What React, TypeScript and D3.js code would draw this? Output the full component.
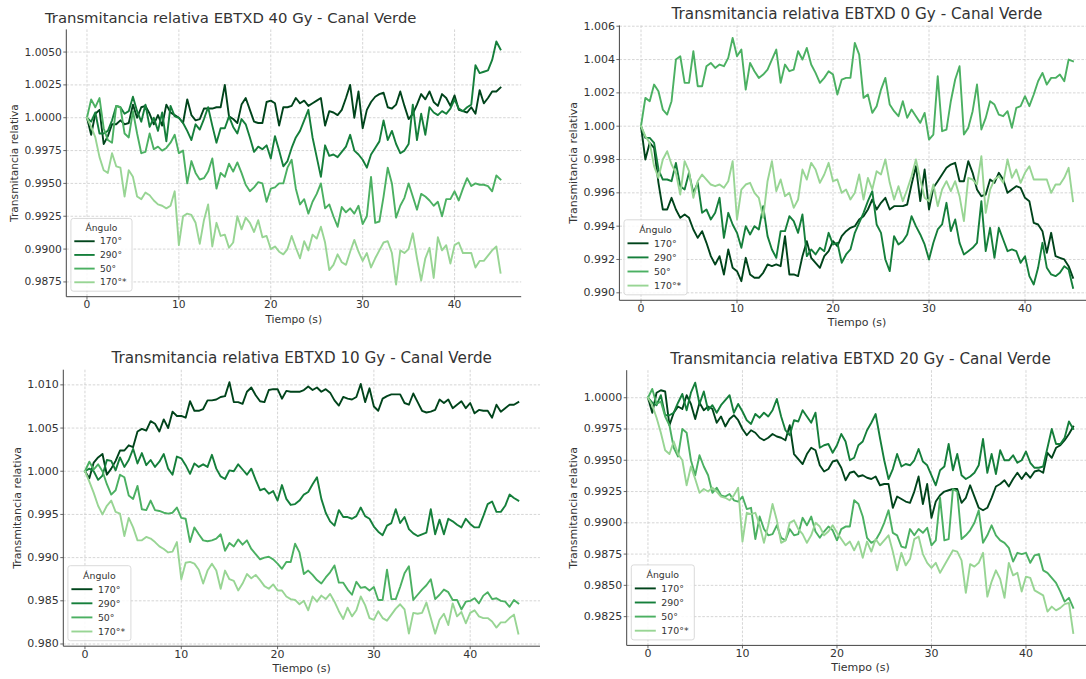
import React from "react";
import * as d3 from "d3";

const ANGLE_LABELS = ["170°", "290°", "50°", "170°*"];
const LINE_COLORS = ["#00441b", "#157f3b", "#4bb062", "#98d594"];
const X_TICKS = [0, 10, 20, 30, 40];
const DURATION = 45;

const TITLES = [
  "Transmitancia relativa EBTXD 40 Gy - Canal Verde",
  "Transmitancia relativa EBTXD 0 Gy - Canal Verde",
  "Transmitancia relativa EBTXD 10 Gy - Canal Verde",
  "Transmitancia relativa EBTXD 20 Gy - Canal Verde",
];

const Y_TICKS_40 = [0.9875, 0.99, 0.9925, 0.995, 0.9975, 1.0, 1.0025, 1.005];
const Y_TICKS_0 = [0.99, 0.992, 0.994, 0.996, 0.998, 1.0, 1.002, 1.004, 1.006];
const Y_TICKS_10 = [0.98, 0.985, 0.99, 0.995, 1.0, 1.005, 1.01];
const Y_TICKS_20 = [0.9825, 0.985, 0.9875, 0.99, 0.9925, 0.995, 0.9975, 1.0];

// ---- 40 Gy ----
const gy40_a170 = [
  1.0000,0.9987,1.0003,1.0006,0.9980,0.9986,0.9995,0.9995,0.9998,0.9995,
  0.9996,1.0010,1.0000,1.0008,1.0009,1.0003,0.9995,1.0002,0.9994,1.0010,
  1.0004,1.0002,1.0000,0.9996,1.0014,1.0002,0.9998,0.9999,1.0007,1.0007,
  1.0007,1.0008,1.0008,1.0025,1.0001,0.9999,0.9996,1.0010,1.0015,1.0006,
  0.9997,0.9996,0.9996,1.0012,1.0013,1.0011,0.9994,1.0008,1.0008,1.0009,
  1.0015,1.0011,1.0013,1.0009,1.0011,1.0013,1.0015,0.9994,1.0005,1.0004,
  1.0002,1.0006,1.0015,1.0025,1.0000,1.0020,0.9992,1.0006,1.0012,1.0016,
  1.0018,1.0019,1.0008,1.0007,1.0010,1.0020,1.0009,0.9999,1.0003,1.0010,
  1.0018,1.0014,1.0020,1.0012,1.0009,1.0018,1.0015,1.0009,1.0017,1.0006,
  1.0005,1.0004,1.0008,1.0003,1.0021,1.0011,1.0015,1.0020,1.0020,1.0023,
];
const gy40_a290 = [
  1.0000,0.9997,1.0004,0.9988,0.9988,0.9990,0.9998,1.0009,1.0008,1.0003,
  1.0005,1.0016,1.0005,0.9997,1.0010,0.9993,1.0000,0.9990,1.0004,0.9982,
  1.0009,1.0001,1.0000,0.9996,0.9990,0.9983,0.9995,0.9991,0.9999,1.0008,
  0.9994,0.9981,0.9992,0.9992,1.0001,0.9993,0.9988,0.9999,0.9995,0.9985,
  0.9974,0.9978,0.9976,0.9979,0.9969,0.9986,0.9975,0.9963,0.9967,0.9977,
  0.9985,0.9990,0.9998,1.0006,0.9985,0.9970,0.9955,0.9979,0.9971,0.9972,
  0.9970,0.9974,0.9978,0.9987,0.9975,0.9972,0.9968,0.9962,0.9972,0.9977,
  0.9982,0.9998,0.9983,0.9990,0.9980,0.9973,0.9975,0.9980,1.0010,0.9983,
  1.0003,0.9987,1.0008,1.0004,1.0002,1.0005,1.0003,1.0007,1.0014,1.0007,
  1.0005,1.0008,1.0010,1.0040,1.0034,1.0035,1.0036,1.0044,1.0058,1.0052,
];
const gy40_a50 = [
  1.0000,1.0014,1.0008,1.0015,0.9992,0.9983,0.9981,1.0009,1.0008,0.9988,
  0.9985,1.0005,0.9988,0.9973,0.9974,0.9988,0.9976,0.9978,0.9975,0.9977,
  0.9981,0.9987,0.9973,0.9975,0.9950,0.9967,0.9958,0.9953,0.9954,0.9959,
  0.9969,0.9946,0.9958,0.9955,0.9965,0.9959,0.9966,0.9958,0.9949,0.9944,
  0.9947,0.9951,0.9950,0.9936,0.9946,0.9947,0.9950,0.9950,0.9962,0.9968,
  0.9946,0.9934,0.9938,0.9927,0.9936,0.9942,0.9950,0.9931,0.9934,0.9925,
  0.9917,0.9932,0.9928,0.9931,0.9927,0.9933,0.9919,0.9925,0.9955,0.9920,
  0.9921,0.9940,0.9962,0.9950,0.9924,0.9933,0.9939,0.9950,0.9940,0.9930,
  0.9942,0.9940,0.9937,0.9933,0.9936,0.9925,0.9938,0.9938,0.9944,0.9937,
  0.9946,0.9954,0.9948,0.9950,0.9949,0.9949,0.9948,0.9944,0.9956,0.9953,
];
const gy40_a170s = [
  1.0000,0.9993,0.9985,0.9970,0.9960,0.9958,0.9973,0.9963,0.9962,0.9940,
  0.9960,0.9955,0.9940,0.9938,0.9943,0.9941,0.9937,0.9934,0.9933,0.9931,
  0.9933,0.9944,0.9903,0.9925,0.9927,0.9926,0.9920,0.9904,0.9922,0.9934,
  0.9902,0.9920,0.9910,0.9911,0.9901,0.9905,0.9925,0.9915,0.9924,0.9920,
  0.9913,0.9922,0.9909,0.9910,0.9900,0.9902,0.9898,0.9896,0.9900,0.9910,
  0.9901,0.9893,0.9906,0.9899,0.9911,0.9908,0.9917,0.9905,0.9884,0.9888,
  0.9896,0.9890,0.9888,0.9898,0.9907,0.9898,0.9891,0.9897,0.9886,0.9893,
  0.9899,0.9905,0.9906,0.9897,0.9873,0.9899,0.9897,0.9900,0.9912,0.9893,
  0.9876,0.9893,0.9901,0.9878,0.9909,0.9899,0.9903,0.9889,0.9903,0.9905,
  0.9897,0.9897,0.9897,0.9886,0.9891,0.9891,0.9895,0.9899,0.9902,0.9882,
];

// ---- 0 Gy ----
const gy0_a170 = [
  1.0000,0.9980,0.9990,0.9987,0.9966,0.9950,0.9950,0.9957,0.9950,0.9945,
  0.9947,0.9945,0.9938,0.9933,0.9937,0.9930,0.9922,0.9917,0.9922,0.9911,
  0.9926,0.9915,0.9913,0.9907,0.9921,0.9911,0.9909,0.9909,0.9912,0.9917,
  0.9916,0.9917,0.9916,0.9934,0.9911,0.9911,0.9910,0.9922,0.9931,0.9921,
  0.9918,0.9915,0.9922,0.9925,0.9931,0.9928,0.9934,0.9937,0.9939,0.9940,
  0.9944,0.9946,0.9950,0.9956,0.9950,0.9954,0.9957,0.9950,0.9952,0.9952,
  0.9952,0.9953,0.9965,0.9976,0.9955,0.9974,0.9950,0.9963,0.9967,0.9971,
  0.9975,0.9977,0.9978,0.9967,0.9967,0.9979,0.9972,0.9962,0.9958,0.9959,
  0.9968,0.9966,0.9972,0.9968,0.9960,0.9962,0.9964,0.9963,0.9957,0.9955,
  0.9942,0.9941,0.9937,0.9924,0.9936,0.9922,0.9921,0.9920,0.9916,0.9909,
];
const gy0_a290 = [
  1.0000,0.9993,0.9993,0.9990,0.9974,0.9968,0.9968,0.9967,0.9978,0.9964,
  0.9962,0.9972,0.9960,0.9966,0.9948,0.9950,0.9944,0.9948,0.9957,0.9933,
  0.9948,0.9941,0.9936,0.9927,0.9940,0.9935,0.9940,0.9938,0.9952,0.9934,
  0.9926,0.9921,0.9937,0.9937,0.9946,0.9943,0.9936,0.9947,0.9922,0.9926,
  0.9923,0.9927,0.9925,0.9936,0.9929,0.9930,0.9918,0.9923,0.9926,0.9936,
  0.9942,0.9948,0.9955,0.9961,0.9941,0.9936,0.9920,0.9913,0.9934,0.9929,
  0.9931,0.9935,0.9946,0.9940,0.9935,0.9929,0.9920,0.9930,0.9938,0.9941,
  0.9954,0.9937,0.9944,0.9930,0.9923,0.9925,0.9927,0.9930,0.9955,0.9925,
  0.9939,0.9921,0.9939,0.9932,0.9925,0.9926,0.9925,0.9918,0.9922,0.9910,
  0.9905,0.9915,0.9930,0.9915,0.9911,0.9910,0.9912,0.9916,0.9914,0.9903,
];
const gy0_a50 = [
  1.0000,1.0017,1.0015,1.0025,1.0021,1.0010,1.0007,1.0015,1.0040,1.0042,
  1.0026,1.0026,1.0045,1.0024,1.0024,1.0036,1.0038,1.0035,1.0037,1.0036,
  1.0041,1.0053,1.0042,1.0046,1.0022,1.0038,1.0033,1.0029,1.0031,1.0034,
  1.0040,1.0046,1.0026,1.0037,1.0033,1.0034,1.0045,1.0040,1.0047,1.0037,
  1.0032,1.0026,1.0029,1.0033,1.0031,1.0019,1.0028,1.0029,1.0029,1.0050,
  1.0043,1.0017,1.0019,1.0008,1.0012,1.0022,1.0029,1.0013,1.0009,1.0006,
  1.0015,1.0005,1.0010,1.0006,1.0002,1.0008,0.9992,0.9995,1.0030,0.9997,
  0.9998,1.0015,1.0028,1.0036,0.9995,0.9999,1.0009,1.0025,0.9998,1.0005,
  1.0015,1.0013,1.0007,1.0006,1.0009,0.9999,1.0011,1.0012,1.0018,1.0012,
  1.0019,1.0027,1.0032,1.0025,1.0029,1.0029,1.0031,1.0027,1.0040,1.0039,
];
const gy0_a170s = [
  1.0000,0.9994,0.9990,0.9976,0.9969,0.9980,0.9985,0.9977,0.9972,0.9959,
  0.9979,0.9973,0.9957,0.9967,0.9971,0.9968,0.9965,0.9964,0.9965,0.9963,
  0.9967,0.9979,0.9944,0.9962,0.9965,0.9966,0.9960,0.9957,0.9945,0.9967,
  0.9979,0.9961,0.9968,0.9958,0.9960,0.9951,0.9956,0.9974,0.9968,0.9978,
  0.9974,0.9966,0.9971,0.9978,0.9967,0.9968,0.9960,0.9962,0.9956,0.9960,
  0.9971,0.9956,0.9969,0.9962,0.9973,0.9971,0.9980,0.9966,0.9956,0.9964,
  0.9955,0.9962,0.9970,0.9980,0.9968,0.9957,0.9955,0.9965,0.9952,0.9962,
  0.9967,0.9961,0.9967,0.9958,0.9943,0.9969,0.9968,0.9965,0.9982,0.9948,
  0.9962,0.9968,0.9970,0.9966,0.9980,0.9969,0.9974,0.9966,0.9972,0.9976,
  0.9968,0.9968,0.9968,0.9968,0.9960,0.9965,0.9965,0.9969,0.9975,0.9955,
];

// ---- 10 Gy ----
const gy10_a170 = [
  1.0000,0.9992,1.0010,1.0016,1.0020,0.9996,1.0003,1.0012,1.0024,1.0024,
  1.0030,1.0028,1.0046,1.0049,1.0047,1.0058,1.0055,1.0046,1.0060,1.0050,
  1.0069,1.0064,1.0064,1.0062,1.0081,1.0070,1.0070,1.0072,1.0082,1.0082,
  1.0083,1.0086,1.0087,1.0103,1.0080,1.0080,1.0078,1.0092,1.0097,1.0088,
  1.0081,1.0080,1.0094,1.0095,1.0095,1.0084,1.0093,1.0092,1.0092,1.0092,
  1.0094,1.0098,1.0094,1.0097,1.0092,1.0095,1.0091,1.0082,1.0076,1.0086,
  1.0084,1.0083,1.0086,1.0101,1.0080,1.0096,1.0075,1.0070,1.0084,1.0087,
  1.0089,1.0089,1.0089,1.0079,1.0077,1.0090,1.0080,1.0070,1.0068,1.0069,
  1.0071,1.0083,1.0079,1.0083,1.0073,1.0077,1.0081,1.0073,1.0079,1.0067,
  1.0071,1.0070,1.0070,1.0062,1.0077,1.0069,1.0073,1.0077,1.0077,1.0080,
];
const gy10_a290 = [
  1.0000,1.0003,1.0000,0.9990,0.9995,1.0013,1.0012,1.0001,1.0016,1.0005,
  1.0013,1.0026,1.0009,1.0021,1.0007,1.0013,1.0005,1.0011,1.0020,1.0003,
  0.9996,1.0017,1.0015,1.0007,0.9997,1.0009,1.0005,1.0008,1.0005,1.0019,
  1.0003,0.9994,0.9991,1.0001,1.0000,1.0008,1.0002,0.9996,1.0003,0.9990,
  0.9978,0.9980,0.9974,0.9977,0.9966,0.9984,0.9968,0.9961,0.9962,0.9966,
  0.9973,0.9976,0.9985,0.9993,0.9968,0.9952,0.9942,0.9937,0.9955,0.9947,
  0.9947,0.9945,0.9948,0.9958,0.9948,0.9945,0.9936,0.9930,0.9926,0.9937,
  0.9940,0.9956,0.9940,0.9947,0.9933,0.9928,0.9925,0.9927,0.9929,0.9956,
  0.9927,0.9944,0.9927,0.9945,0.9942,0.9938,0.9935,0.9945,0.9939,0.9935,
  0.9935,0.9948,0.9962,0.9965,0.9953,0.9953,0.9960,0.9973,0.9969,0.9966,
];
const gy10_a50 = [
  1.0000,1.0011,1.0002,1.0008,1.0000,0.9985,0.9973,0.9978,0.9996,0.9993,
  0.9972,0.9968,0.9983,0.9956,0.9955,0.9966,0.9955,0.9954,0.9952,0.9951,
  0.9952,0.9958,0.9946,0.9945,0.9918,0.9935,0.9927,0.9920,0.9919,0.9920,
  0.9922,0.9927,0.9908,0.9917,0.9913,0.9921,0.9915,0.9920,0.9910,0.9904,
  0.9898,0.9900,0.9901,0.9898,0.9893,0.9887,0.9895,0.9895,0.9916,0.9906,
  0.9881,0.9885,0.9880,0.9874,0.9870,0.9877,0.9883,0.9891,0.9871,0.9871,
  0.9863,0.9857,0.9872,0.9865,0.9866,0.9862,0.9866,0.9851,0.9851,0.9886,
  0.9852,0.9852,0.9866,0.9882,0.9890,0.9851,0.9857,0.9863,0.9868,0.9875,
  0.9852,0.9857,0.9863,0.9860,0.9851,0.9851,0.9840,0.9849,0.9850,0.9853,
  0.9847,0.9856,0.9860,0.9852,0.9853,0.9850,0.9849,0.9843,0.9851,0.9847,
];
const gy10_a170s = [
  1.0000,0.9988,0.9975,0.9960,0.9950,0.9960,0.9966,0.9953,0.9951,0.9925,
  0.9946,0.9935,0.9920,0.9920,0.9924,0.9922,0.9918,0.9913,0.9910,0.9906,
  0.9907,0.9918,0.9875,0.9894,0.9895,0.9893,0.9886,0.9870,0.9885,0.9893,
  0.9885,0.9864,0.9885,0.9875,0.9873,0.9862,0.9870,0.9881,0.9876,0.9880,
  0.9874,0.9867,0.9864,0.9869,0.9862,0.9862,0.9855,0.9852,0.9851,0.9846,
  0.9850,0.9839,0.9855,0.9849,0.9856,0.9852,0.9858,0.9849,0.9838,0.9829,
  0.9842,0.9832,0.9839,0.9855,0.9845,0.9830,0.9828,0.9838,0.9830,0.9827,
  0.9834,0.9841,0.9846,0.9840,0.9812,0.9836,0.9835,0.9836,0.9848,0.9830,
  0.9812,0.9828,0.9835,0.9822,0.9847,0.9832,0.9837,0.9824,0.9836,0.9839,
  0.9832,0.9830,0.9830,0.9826,0.9819,0.9825,0.9825,0.9830,0.9834,0.9812,
];

// ---- 20 Gy ----
const gy20_a170 = [
  1.0000,0.9988,1.0004,1.0006,1.0005,0.9978,0.9988,0.9993,0.9991,1.0002,
  0.9995,0.9983,0.9996,0.9990,0.9993,0.9991,0.9980,0.9985,0.9977,0.9983,
  0.9986,0.9982,0.9975,0.9970,0.9974,0.9972,0.9968,0.9966,0.9968,0.9971,
  0.9969,0.9968,0.9966,0.9978,0.9955,0.9951,0.9947,0.9955,0.9960,0.9958,
  0.9946,0.9941,0.9943,0.9949,0.9950,0.9944,0.9934,0.9940,0.9941,0.9937,
  0.9938,0.9936,0.9935,0.9937,0.9930,0.9931,0.9931,0.9912,0.9921,0.9919,
  0.9917,0.9916,0.9925,0.9937,0.9915,0.9931,0.9904,0.9917,0.9922,0.9925,
  0.9926,0.9927,0.9927,0.9916,0.9920,0.9930,0.9921,0.9912,0.9910,0.9912,
  0.9920,0.9929,0.9931,0.9934,0.9929,0.9935,0.9940,0.9935,0.9940,0.9936,
  0.9941,0.9942,0.9940,0.9956,0.9952,0.9960,0.9962,0.9966,0.9971,0.9977,
];
const gy20_a290 = [
  1.0000,0.9996,0.9994,1.0002,0.9986,0.9986,0.9988,0.9996,1.0003,0.9990,
  1.0004,1.0012,0.9995,1.0005,0.9990,0.9994,0.9988,0.9994,0.9998,1.0002,
  0.9988,0.9995,0.9989,0.9982,0.9979,0.9987,0.9984,0.9988,0.9985,0.9990,
  0.9999,0.9985,0.9974,0.9970,0.9982,0.9981,0.9990,0.9985,0.9980,0.9988,
  0.9960,0.9962,0.9963,0.9956,0.9962,0.9971,0.9965,0.9950,0.9952,0.9962,
  0.9965,0.9974,0.9980,0.9987,0.9968,0.9950,0.9935,0.9943,0.9955,0.9945,
  0.9947,0.9946,0.9950,0.9959,0.9949,0.9946,0.9938,0.9930,0.9942,0.9945,
  0.9963,0.9942,0.9955,0.9938,0.9935,0.9937,0.9940,0.9946,0.9967,0.9940,
  0.9955,0.9939,0.9958,0.9950,0.9950,0.9954,0.9948,0.9950,0.9957,0.9948,
  0.9944,0.9944,0.9945,0.9960,0.9975,0.9963,0.9963,0.9968,0.9981,0.9975,
];
const gy20_a50 = [
  1.0000,1.0007,0.9995,0.9997,0.9985,0.9978,0.9960,0.9953,0.9975,0.9972,
  0.9950,0.9938,0.9954,0.9945,0.9938,0.9924,0.9928,0.9922,0.9921,0.9923,
  0.9918,0.9917,0.9921,0.9911,0.9912,0.9887,0.9905,0.9895,0.9890,0.9891,
  0.9898,0.9888,0.9886,0.9895,0.9890,0.9891,0.9904,0.9898,0.9905,0.9893,
  0.9888,0.9893,0.9897,0.9894,0.9886,0.9895,0.9897,0.9897,0.9918,0.9915,
  0.9905,0.9888,0.9884,0.9886,0.9892,0.9900,0.9910,0.9892,0.9890,0.9881,
  0.9880,0.9895,0.9890,0.9895,0.9892,0.9896,0.9882,0.9886,0.9920,0.9886,
  0.9887,0.9927,0.9925,0.9887,0.9890,0.9894,0.9900,0.9910,0.9884,0.9890,
  0.9898,0.9890,0.9886,0.9884,0.9880,0.9869,0.9876,0.9875,0.9876,0.9868,
  0.9874,0.9875,0.9862,0.9860,0.9856,0.9852,0.9845,0.9837,0.9840,0.9832,
];
const gy20_a170s = [
  1.0000,0.9994,0.9984,0.9972,0.9958,0.9955,0.9965,0.9955,0.9950,0.9930,
  0.9945,0.9935,0.9924,0.9927,0.9925,0.9928,0.9925,0.9921,0.9920,0.9918,
  0.9922,0.9928,0.9885,0.9908,0.9907,0.9908,0.9898,0.9884,0.9898,0.9915,
  0.9902,0.9884,0.9886,0.9900,0.9902,0.9895,0.9891,0.9884,0.9890,0.9900,
  0.9897,0.9890,0.9893,0.9898,0.9892,0.9887,0.9882,0.9885,0.9878,0.9885,
  0.9872,0.9885,0.9877,0.9887,0.9882,0.9886,0.9890,0.9877,0.9862,0.9876,
  0.9866,0.9871,0.9887,0.9889,0.9875,0.9868,0.9864,0.9868,0.9860,0.9866,
  0.9872,0.9878,0.9877,0.9870,0.9844,0.9867,0.9865,0.9868,0.9876,0.9841,
  0.9853,0.9862,0.9855,0.9840,0.9868,0.9858,0.9860,0.9845,0.9857,0.9856,
  0.9846,0.9844,0.9842,0.9829,0.9833,0.9830,0.9832,0.9835,0.9836,0.9812,
];

// layout (pixel geometry of each axes)
const LAYOUT = [
  { left: 66.3, right: 521.2, top: 29.4, bottom: 296.7, titleX: 230.7, yLabelX: 14, fs: 0.97, ts: 0.976, decimals: 4 },
  { left: 619.4, right: 1094.6, top: 25.4, bottom: 300.3, titleX: null, yLabelX: 573.5, fs: 1, ts: 1, decimals: 3 },
  { left: 63.3, right: 540.0, top: 369.7, bottom: 646.2, titleX: null, yLabelX: 17.3, fs: 1, ts: 1, decimals: 3 },
  { left: 626.7, right: 1094.5, top: 370.2, bottom: 645.4, titleX: null, yLabelX: 573, fs: 1, ts: 1, decimals: 4 },
];

const PANELS = [
  { title: TITLES[0], yTicks: Y_TICKS_40, series: [gy40_a170, gy40_a290, gy40_a50, gy40_a170s] },
  { title: TITLES[1], yTicks: Y_TICKS_0, series: [gy0_a170, gy0_a290, gy0_a50, gy0_a170s] },
  { title: TITLES[2], yTicks: Y_TICKS_10, series: [gy10_a170, gy10_a290, gy10_a50, gy10_a170s] },
  { title: TITLES[3], yTicks: Y_TICKS_20, series: [gy20_a170, gy20_a290, gy20_a50, gy20_a170s] },
];

const FONT = "'DejaVu Sans', Verdana, sans-serif";
const TEXT = "#333333";

function Panel({ panel, lay }: { panel: any; lay: any }) {
  const x = d3.scaleLinear().domain([-0.05 * DURATION, 1.05 * DURATION]).range([lay.left, lay.right]);
  const all: number[] = panel.series.flat();
  const lo = d3.min(all) as number;
  const hi = d3.max(all) as number;
  const pad = (hi - lo) * 0.05;
  const y = d3.scaleLinear().domain([lo - pad, hi + pad]).range([lay.bottom, lay.top]);
  const line = d3
    .line<number>()
    .x((_d, i, arr) => x((i * DURATION) / ((arr as number[]).length - 1)))
    .y((d) => y(d));
  const fmt = d3.format(`.${lay.decimals}f`);
  const s = lay.fs;
  const tickFs = 11 * s;
  const labelFs = 11 * s;
  const titleFs = 15.2 * lay.ts;
  const legFs = 9.4 * s;
  const cx = (lay.left + lay.right) / 2;
  const cy = (lay.top + lay.bottom) / 2;
  const titleX = lay.titleX ?? cx;

  const legW = 63 * s;
  const legH = 75 * s;
  const legX = lay.left + 4.6;
  const legY = lay.bottom - 5.5 - legH;

  return (
    <g>
      {panel.yTicks.map((t: number) => (
        <line key={"gy" + t} x1={lay.left} x2={lay.right} y1={y(t)} y2={y(t)} stroke="#cccccc" strokeWidth={0.8} strokeDasharray="2.6,1.6" />
      ))}
      {X_TICKS.map((t) => (
        <line key={"gx" + t} x1={x(t)} x2={x(t)} y1={lay.top} y2={lay.bottom} stroke="#cccccc" strokeWidth={0.8} strokeDasharray="2.6,1.6" />
      ))}
      {panel.series.map((vals: number[], k: number) => (
        <path key={"s" + k} d={line(vals) as string} fill="none" stroke={LINE_COLORS[k]} strokeWidth={1.9} strokeLinejoin="round" strokeLinecap="square" />
      ))}
      <line x1={lay.left} x2={lay.left} y1={lay.top} y2={lay.bottom} stroke="#444" strokeWidth={1} />
      <line x1={lay.left} x2={lay.right} y1={lay.bottom} y2={lay.bottom} stroke="#444" strokeWidth={1} />
      {panel.yTicks.map((t: number) => (
        <g key={"ty" + t}>
          <line x1={lay.left - 3} x2={lay.left} y1={y(t)} y2={y(t)} stroke="#444" strokeWidth={0.8} />
          <text x={lay.left - 4.5} y={y(t)} textAnchor="end" dominantBaseline="central" fontSize={tickFs} fill={TEXT} fontFamily={FONT}>
            {fmt(t)}
          </text>
        </g>
      ))}
      {X_TICKS.map((t) => (
        <g key={"tx" + t}>
          <line x1={x(t)} x2={x(t)} y1={lay.bottom} y2={lay.bottom + 3} stroke="#444" strokeWidth={0.8} />
          <text x={x(t)} y={lay.bottom + 8} textAnchor="middle" dominantBaseline="central" fontSize={tickFs} fill={TEXT} fontFamily={FONT}>
            {t}
          </text>
        </g>
      ))}
      <text x={cx} y={lay.bottom + 22.4} textAnchor="middle" dominantBaseline="central" fontSize={labelFs} fill={TEXT} fontFamily={FONT}>
        Tiempo (s)
      </text>
      <text transform={`translate(${lay.yLabelX},${cy}) rotate(-90)`} textAnchor="middle" dominantBaseline="central" fontSize={labelFs} fill={TEXT} fontFamily={FONT}>
        Transmitancia relativa
      </text>
      <text x={titleX} y={lay.top - 11.5} textAnchor="middle" dominantBaseline="central" fontSize={titleFs} fill={TEXT} fontFamily={FONT}>
        {panel.title}
      </text>
      <g>
        <rect x={legX} y={legY} width={legW} height={legH} rx={2.5} fill="#ffffff" fillOpacity={0.85} stroke="#d0d0d0" strokeWidth={0.8} />
        <text x={legX + legW / 2} y={legY + 9.5 * s} textAnchor="middle" dominantBaseline="central" fontSize={legFs} fill={TEXT} fontFamily={FONT}>
          Ángulo
        </text>
        {ANGLE_LABELS.map((lab, k) => {
          const ry = legY + (23.5 + k * 14.1) * s;
          return (
            <g key={"l" + k}>
              <line x1={legX + 3.5 * s} x2={legX + 24.5 * s} y1={ry} y2={ry} stroke={LINE_COLORS[k]} strokeWidth={1.9} />
              <text x={legX + 30 * s} y={ry} dominantBaseline="central" fontSize={legFs} fill={TEXT} fontFamily={FONT}>
                {lab}
              </text>
            </g>
          );
        })}
      </g>
    </g>
  );
}

export default function App() {
  return (
    <svg width={1086} height={679} style={{ position: "absolute", left: 0, top: 0, background: "#ffffff" }}>
      <rect x={0} y={0} width={1086} height={679} fill="#ffffff" />
      {PANELS.map((p, i) => (
        <Panel key={i} panel={p} lay={LAYOUT[i]} />
      ))}
    </svg>
  );
}
